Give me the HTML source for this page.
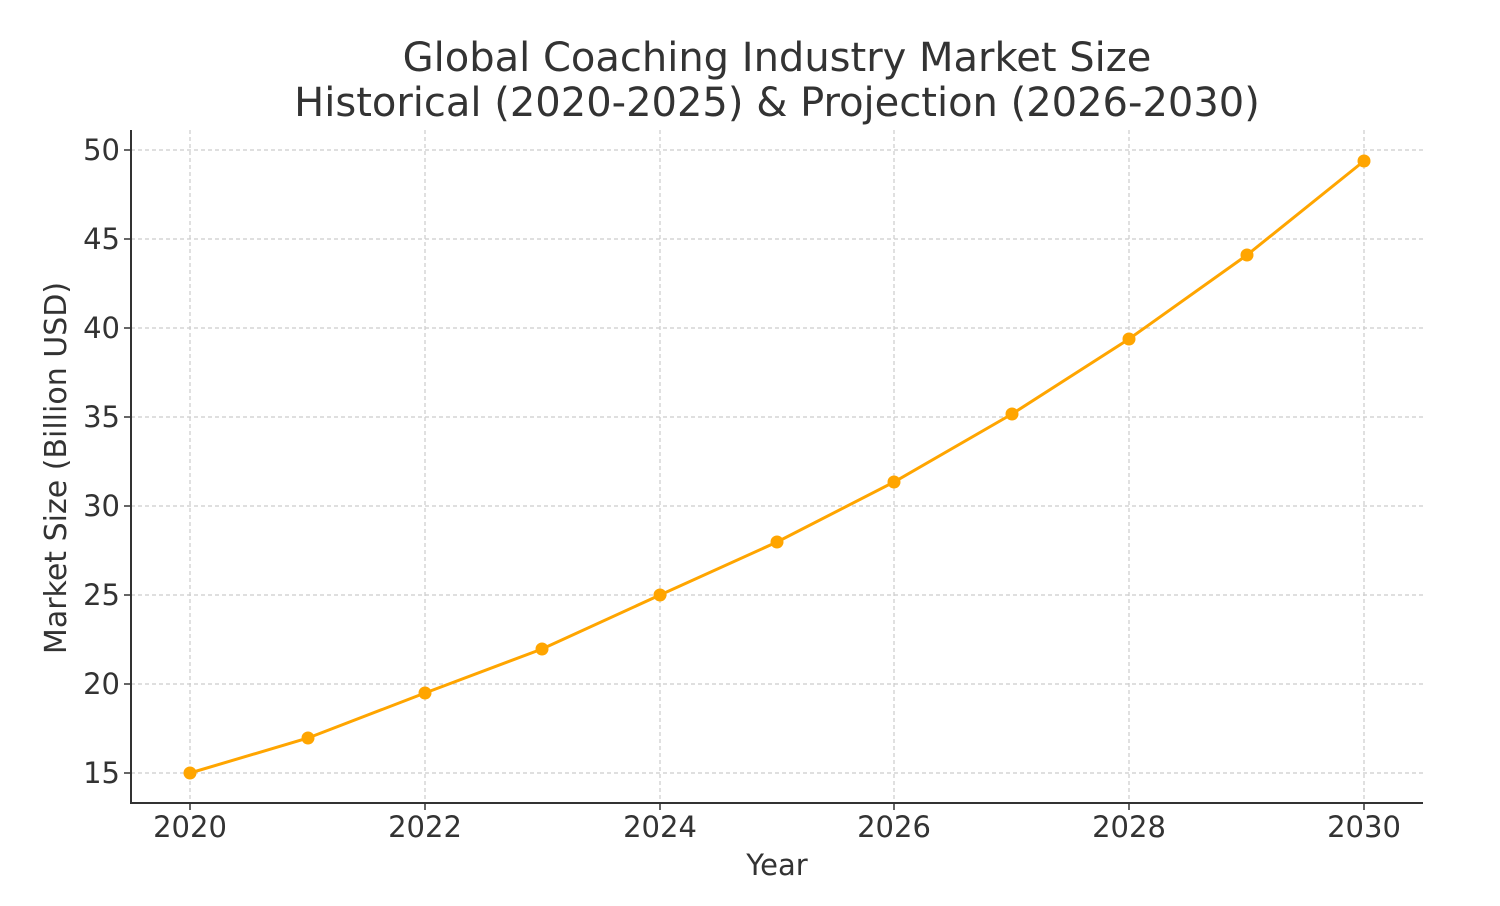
<!DOCTYPE html>
<html><head><meta charset="utf-8"><style>
html,body{margin:0;padding:0;background:#fff;}
svg{display:block;font-family:"DejaVu Sans","Liberation Sans",sans-serif;}
</style></head><body>
<svg width="1500" height="906" viewBox="0 0 1500 906" xmlns="http://www.w3.org/2000/svg">
<rect width="1500" height="906" fill="#fff"/>
<text x="777" y="71" text-anchor="middle" font-size="40" fill="#333">Global Coaching Industry Market Size</text>
<text x="777" y="116" text-anchor="middle" font-size="40" fill="#333">Historical (2020-2025) &amp; Projection (2026-2030)</text>
<g stroke="#ccc" stroke-width="1.2" stroke-dasharray="4,3">
<line x1="190" y1="130" x2="190" y2="803"/><line x1="425" y1="130" x2="425" y2="803"/>
<line x1="660" y1="130" x2="660" y2="803"/><line x1="894" y1="130" x2="894" y2="803"/>
<line x1="1129" y1="130" x2="1129" y2="803"/><line x1="1364" y1="130" x2="1364" y2="803"/>
<line x1="131" y1="773" x2="1423" y2="773"/><line x1="131" y1="684" x2="1423" y2="684"/>
<line x1="131" y1="595" x2="1423" y2="595"/><line x1="131" y1="506" x2="1423" y2="506"/>
<line x1="131" y1="417" x2="1423" y2="417"/><line x1="131" y1="328" x2="1423" y2="328"/>
<line x1="131" y1="239" x2="1423" y2="239"/><line x1="131" y1="150" x2="1423" y2="150"/>
</g>
<g stroke="#333" stroke-width="2">
<line x1="131" y1="130" x2="131" y2="804"/><line x1="130" y1="803" x2="1423" y2="803"/>
</g>
<g stroke="#333" stroke-width="1.5">
<line x1="190" y1="803" x2="190" y2="810"/><line x1="425" y1="803" x2="425" y2="810"/>
<line x1="660" y1="803" x2="660" y2="810"/><line x1="894" y1="803" x2="894" y2="810"/>
<line x1="1129" y1="803" x2="1129" y2="810"/><line x1="1364" y1="803" x2="1364" y2="810"/>
<line x1="124" y1="773" x2="131" y2="773"/><line x1="124" y1="684" x2="131" y2="684"/>
<line x1="124" y1="595" x2="131" y2="595"/><line x1="124" y1="506" x2="131" y2="506"/>
<line x1="124" y1="417" x2="131" y2="417"/><line x1="124" y1="328" x2="131" y2="328"/>
<line x1="124" y1="239" x2="131" y2="239"/><line x1="124" y1="150" x2="131" y2="150"/>
</g>
<g font-size="29" fill="#333" text-anchor="middle">
<text x="190" y="837">2020</text><text x="425" y="837">2022</text><text x="660" y="837">2024</text>
<text x="894" y="837">2026</text><text x="1129" y="837">2028</text><text x="1364" y="837">2030</text>
</g>
<g font-size="29" fill="#333" text-anchor="end">
<text x="120" y="783">15</text><text x="120" y="694">20</text><text x="120" y="605">25</text>
<text x="120" y="516">30</text><text x="120" y="427">35</text><text x="120" y="338">40</text>
<text x="120" y="249">45</text><text x="120" y="160">50</text>
</g>
<text x="777" y="875" text-anchor="middle" font-size="29" fill="#333">Year</text>
<text transform="translate(73,468) rotate(-90)" text-anchor="middle" font-size="30" fill="#333" dy="-7">Market Size (Billion USD)</text>
<polyline fill="none" stroke="#FFA500" stroke-width="3" points="190,773 308,738 425,693 542,649 660,595 777,542 894,482 1012,414 1129,339 1247,255 1364,161"/>
<g fill="#FFA500">
<circle cx="190" cy="773" r="6.5"/><circle cx="308" cy="738" r="6.5"/><circle cx="425" cy="693" r="6.5"/>
<circle cx="542" cy="649" r="6.5"/><circle cx="660" cy="595" r="6.5"/><circle cx="777" cy="542" r="6.5"/>
<circle cx="894" cy="482" r="6.5"/><circle cx="1012" cy="414" r="6.5"/><circle cx="1129" cy="339" r="6.5"/>
<circle cx="1247" cy="255" r="6.5"/><circle cx="1364" cy="161" r="6.5"/>
</g>
</svg>
</body></html>
